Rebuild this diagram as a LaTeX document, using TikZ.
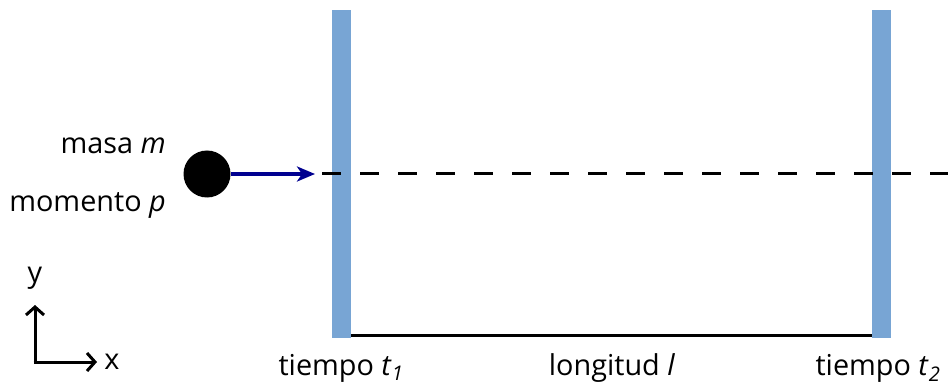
\documentclass[tikz,border=0pt]{standalone}
\usepackage{fontspec}
\setmainfont{Open Sans}
\usetikzlibrary{arrows.meta}
\definecolor{wallblue}{HTML}{78A5D4}
\definecolor{arrowblue}{HTML}{000090}
\begin{document}
\begin{tikzpicture}
[x=1pt,y=-1pt,
  walldecorate/.style={shape=rectangle,fill=wallblue,inner sep=0pt,minimum width=19pt,minimum height=328pt},%
  balldecorate/.style={shape=circle,fill=black,inner sep=0pt,minimum size=47pt},%
  labeldecorate/.style={font=\fontsize{28.8}{34}\selectfont,inner sep=0pt},%
  linedecorate/.style={-,line width=3pt}]
\useasboundingbox (0,0) rectangle (948,385);
%% walls and mass
\foreach \nodename/\x in {wallone/341.5, walltwo/881.5} {
  \node (\nodename) at (\x,174) [walldecorate] {};
}
\node (ball) at (207,174) [balldecorate] {};
\coordinate (arrowend) at (315,174);
\coordinate (dashstart) at (322,174);
\coordinate (dashend) at (948,174);
%% labels
\node (masa) at (166,146) [labeldecorate,anchor=east] {masa \textit{m}};
\node (momento) at (166,205) [labeldecorate,anchor=east] {momento \textit{p}};
\node (tone) at (341,368) [labeldecorate] {tiempo \textit{t}\textsubscript{\textit{1}}};
\node (length) at (612,368) [labeldecorate] {longitud \textit{l}};
\node (ttwo) at (878,368) [labeldecorate] {tiempo \textit{t}\textsubscript{\textit{2}}};
%% axes
\coordinate (origin) at (35,362);
\coordinate (yend) at (35,305);
\coordinate (xend) at (97,362);
\node (ylabel) at (35,278) [labeldecorate] {y};
\node (xlabel) at (112,362) [labeldecorate] {x};
%% lines
\draw[linedecorate,arrowblue,line width=3.5pt,-{Stealth[length=18pt,width=15pt,inset=5pt]}] (ball) -- (arrowend);
\draw[linedecorate,dash pattern=on 19pt off 19pt] (dashstart) -- (dashend);
\draw[linedecorate] (wallone.south east) ++(0,-3) -- ([yshift=3pt]walltwo.south west);
\draw[linedecorate,-{Straight Barb[length=8pt,width=18pt]}] (origin) -- (yend);
\draw[linedecorate,-{Straight Barb[length=8pt,width=18pt]},shorten <=-1.5pt] (origin) -- (xend);
\end{tikzpicture}
\end{document}
